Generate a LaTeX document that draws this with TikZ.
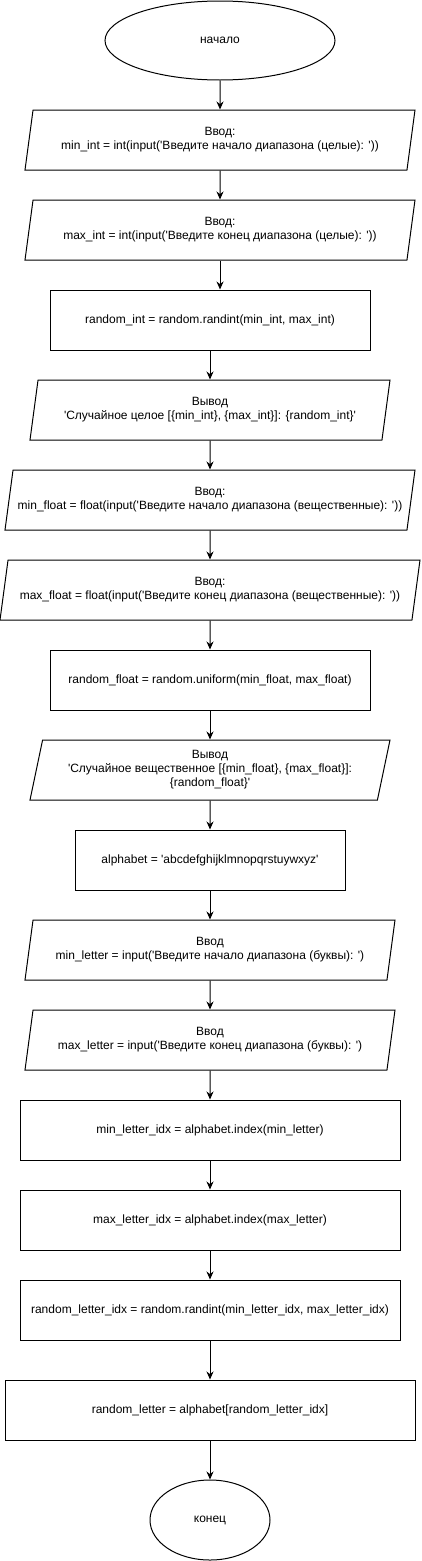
\documentclass[tikz,border=0pt]{standalone}
\usepackage{fontspec}
\setmainfont{Liberation Sans}
\usetikzlibrary{shapes.geometric,arrows.meta}
\newcommand{\squote}{\textquotesingle}
\tikzstyle{terminal} = [ellipse, draw, inner sep=0pt]
\tikzstyle{io} = [trapezium, draw, trapezium left angle=72, trapezium right angle=108,
    trapezium stretches body, minimum height=60pt, inner sep=0pt, align=center]
\tikzstyle{block} = [rectangle, draw, minimum height=60pt, align=center]
\tikzstyle{line} = [draw, -{Stealth[length=8pt, width=7pt]}]

\begin{document}
\begin{tikzpicture}[x=1pt, y=1pt, node distance=90pt, line width=1pt,
    font=\fontsize{12}{14}\selectfont]
    \useasboundingbox (0,0) rectangle (421,-1561);
    % Place nodes
    \node [terminal, minimum width=230pt, minimum height=79pt] (start) at (220,-40.5) {начало};
    \node [io, minimum width=390pt, below of=start, node distance=99.5pt] (inmin)
        {Ввод:\\min\_int = int(input(\squote Введите начало диапазона (целые): \squote))};
    \node [io, minimum width=390pt, below of=inmin] (inmax)
        {Ввод:\\max\_int = int(input(\squote Введите конец диапазона (целые): \squote))};
    \node [block, minimum width=320pt, below of=inmax, xshift=-10pt] (rint)
        {random\_int = random.randint(min\_int, max\_int)};
    \node [io, minimum width=360pt, below of=rint] (outint)
        {Вывод\\\squote Случайное целое [\{min\_int\}, \{max\_int\}]: \{random\_int\}\squote};
    \node [io, minimum width=410pt, below of=outint] (inminf)
        {Ввод:\\min\_float = float(input(\squote Введите начало диапазона (вещественные): \squote))};
    \node [io, minimum width=420pt, below of=inminf] (inmaxf)
        {Ввод:\\max\_float = float(input(\squote Введите конец диапазона (вещественные): \squote))};
    \node [block, minimum width=320pt, below of=inmaxf] (rfloat)
        {random\_float = random.uniform(min\_float, max\_float)};
    \node [io, minimum width=360pt, below of=rfloat] (outfloat)
        {Вывод\\\squote Случайное вещественное [\{min\_float\}, \{max\_float\}]:\\\{random\_float\}\squote};
    \node [block, minimum width=270pt, below of=outfloat] (alpha)
        {alphabet = \squote abcdefghijklmnopqrstuywxyz\squote};
    \node [io, minimum width=370pt, below of=alpha] (inminl)
        {Ввод\\min\_letter = input(\squote Введите начало диапазона (буквы): \squote)};
    \node [io, minimum width=370pt, below of=inminl] (inmaxl)
        {Ввод\\max\_letter = input(\squote Введите конец диапазона (буквы): \squote)};
    \node [block, minimum width=380pt, below of=inmaxl] (minidx)
        {min\_letter\_idx = alphabet.index(min\_letter)};
    \node [block, minimum width=380pt, below of=minidx] (maxidx)
        {max\_letter\_idx = alphabet.index(max\_letter)};
    \node [block, minimum width=380pt, below of=maxidx] (ridx)
        {random\_letter\_idx = random.randint(min\_letter\_idx, max\_letter\_idx)};
    \node [block, minimum width=410pt, below of=ridx, node distance=100pt] (rletter)
        {random\_letter = alphabet[random\_letter\_idx]};
    \node [terminal, minimum width=120pt, minimum height=80pt, below of=rletter, node distance=110pt] (stop) {конец};
    % Draw edges
    \path [line] (start) -- (inmin);
    \path [line] (inmin) -- (inmax);
    \path [line] (inmax.south) -- (inmax.south |- rint.north);
    \path [line] (rint) -- (outint);
    \path [line] (outint) -- (inminf);
    \path [line] (inminf) -- (inmaxf);
    \path [line] (inmaxf) -- (rfloat);
    \path [line] (rfloat) -- (outfloat);
    \path [line] (outfloat) -- (alpha);
    \path [line] (alpha) -- (inminl);
    \path [line] (inminl) -- (inmaxl);
    \path [line] (inmaxl) -- (minidx);
    \path [line] (minidx) -- (maxidx);
    \path [line] (maxidx) -- (ridx);
    \path [line] (ridx) -- (rletter);
    \path [line] (rletter) -- (stop);
\end{tikzpicture}
\end{document}
